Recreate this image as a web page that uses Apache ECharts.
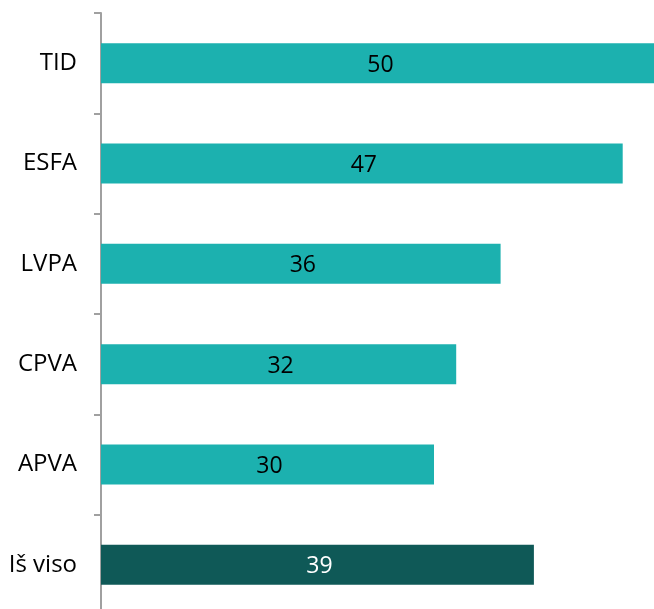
<!DOCTYPE html>
<html>
<head>
<meta charset="utf-8">
<script src="https://cdn.jsdelivr.net/npm/echarts@6/dist/echarts.min.js"></script>
<style>
  html, body { margin: 0; padding: 0; background: #fff; }
  #main { width: 654px; height: 609px; }
</style>
</head>
<body>
<div id="main"></div>
<script>
var categories = ["TID", "ESFA", "LVPA", "CPVA", "APVA", "Iš viso"];
var values = [50, 47, 36, 32, 30, 39];
var barColors = ["#1CB1AF", "#1CB1AF", "#1CB1AF", "#1CB1AF", "#1CB1AF", "#0F5957"];
var labelColors = ["#000", "#000", "#000", "#000", "#000", "#fff"];

var chart = echarts.init(document.getElementById("main"), null, { renderer: "canvas" });

var option = {
    animation: false,
    grid: {
        left: 101,
        top: 13,
        width: 555,
        height: 602,
        outerBoundsMode: "none"
    },
    xAxis: {
        type: "value",
        min: 0,
        max: 50,
        show: false
    },
    yAxis: {
        type: "category",
        inverse: true,
        data: categories,
        axisLine: { show: true, lineStyle: { color: "#A0A0A0", width: 2 } },
        axisTick: {
            show: true,
            alignWithLabel: false,
            length: 7,
            lineStyle: { color: "#A0A0A0", width: 2 }
        },
        axisLabel: {
            color: "#000",
            fontSize: 24,
            fontFamily: "Open Sans",
            margin: 24
        }
    },
    series: [
        {
            type: "bar",
            barWidth: 40,
            data: values.map(function (v, i) {
                return {
                    value: v,
                    itemStyle: { color: barColors[i] },
                    label: { color: labelColors[i] }
                };
            }),
            label: {
                show: true,
                position: "inside",
                fontSize: 23,
                fontFamily: "Open Sans",
                offset: [2, 2]
            }
        }
    ]
};
chart.setOption(option);
</script>
</body>
</html>
